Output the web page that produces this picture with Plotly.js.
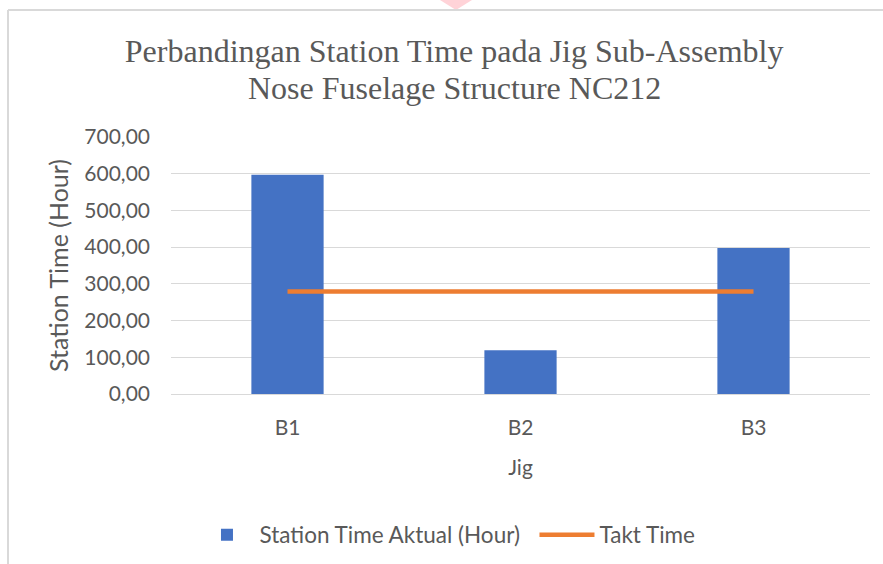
<!DOCTYPE html>
<html>
<head>
<meta charset="utf-8">
<script src="https://cdn.plot.ly/plotly-3.0.1.min.js"></script>
<style>html,body{margin:0;padding:0;background:#fff;}#chart{width:883px;height:564px;}</style>
</head>
<body>
<div id="chart"></div>
<script>
const categories = ["B1", "B2", "B3"];
const stationTime = [597, 119, 398];
const taktTime = [279, 279, 279];
const yTickVals = [0, 100, 200, 300, 400, 500, 600, 700];
const yTickText = ["0,00", "100,00", "200,00", "300,00", "400,00", "500,00", "600,00", "700,00"];
const titleLine1 = "Perbandingan Station Time pada Jig Sub-Assembly";
const titleLine2 = "Nose Fuselage Structure NC212";

const sans = "Lato, 'Open Sans', sans-serif";
const serif = "'Liberation Serif', 'Times New Roman', serif";
const grey = "#595959";

const traces = [
  {
    type: "bar",
    name: "Station Time Aktual (Hour)",
    x: categories,
    y: stationTime,
    marker: {color: "#4472C4"},
    hoverinfo: "x+y"
  },
  {
    type: "scatter",
    mode: "lines",
    name: "Takt Time",
    x: categories,
    y: taktTime,
    line: {color: "#ED7D31", width: 4.5},
    hoverinfo: "x+y"
  }
];

const layout = {
  width: 883,
  height: 564,
  margin: {l: 171, r: 13, t: 137, b: 170},
  paper_bgcolor: "#ffffff",
  plot_bgcolor: "#ffffff",
  bargap: 0.69,
  showlegend: true,
  title: {
    text: titleLine1,
    font: {family: serif, size: 32, color: grey},
    x: 0.405, xanchor: "center", xref: "paper",
    y: 0.9096, yanchor: "middle", yref: "container"
  },
  annotations: [
    {text: titleLine2, xref: "paper", yref: "paper", x: 0.405, y: 1.1907,
     xanchor: "center", yanchor: "middle", showarrow: false,
     font: {family: serif, size: 32, color: grey}}
  ],
  xaxis: {
    type: "category",
    tickfont: {family: sans, size: 21, color: grey},
    showgrid: false,
    showline: false,
    zeroline: false,
    ticks: "",
    ticklabelstandoff: 19,
    title: {text: "Jig", font: {family: sans, size: 21, color: grey}, standoff: 22}
  },
  yaxis: {
    range: [0, 700],
    tickvals: yTickVals,
    ticktext: yTickText,
    tickfont: {family: sans, size: 21, color: grey},
    showgrid: true,
    gridcolor: "#D9D9D9",
    gridwidth: 1.3,
    zeroline: true,
    zerolinecolor: "#D9D9D9",
    zerolinewidth: 1.3,
    showline: false,
    ticks: "",
    ticklabelstandoff: 20,
    title: {text: "Station Time (Hour)", font: {family: sans, size: 25, color: grey}, standoff: 8}
  },
  legend: {
    orientation: "h",
    xref: "paper", yref: "container",
    x: 0.52, xanchor: "center",
    y: 0.0514, yanchor: "middle",
    font: {family: sans, size: 22.5, color: grey},
    itemwidth: 55,
    entrywidth: 270,
    bgcolor: "rgba(0,0,0,0)"
  },
  shapes: [
    {type: "line", xref: "paper", yref: "paper", x0: -0.2332, x1: -0.2332, y0: 1.494, y1: -1, line: {color: "#D9D9D9", width: 2}},
    {type: "line", xref: "paper", yref: "paper", x0: -0.2332, x1: 1.1, y0: 1.494, y1: 1.494, line: {color: "#D9D9D9", width: 2}},
    {type: "path", xref: "paper", yref: "paper",
     path: "M0.3848,1.533 L0.4306,1.533 L0.4077,1.494 Z",
     fillcolor: "#FFD3D8", line: {width: 0}, layer: "below"}
  ]
};

Plotly.newPlot("chart", traces, layout, {displayModeBar: false, responsive: false});
</script>
</body>
</html>
